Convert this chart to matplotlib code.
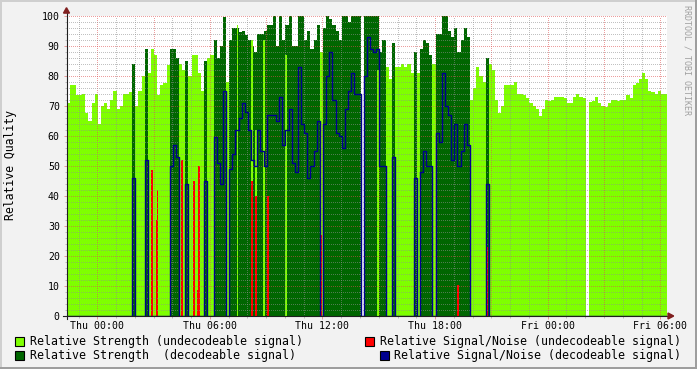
import numpy as np
import matplotlib.pyplot as plt
from matplotlib.patches import Rectangle, Polygon

nan = np.nan

# one sample every 10 minutes, time in hours from Thu 00:00
t_start = -1.64
t_step = 10 / 60

strength = [
    70.8, 77, 77, 73.5, 73.5, 74, 67.5, 65, 71, 74, 64, 70,
    71, 69, 72, 75, 69, 70, 74, 74, 74.5, 84, 70, 75,
    80, 89, 81, 89, 87, 73.5, 77, 77.5, 83.5, 89, 89, 86,
    84, 82, 85, 80, 87, 87, 81, 75, 85, 86, 87, 92,
    86, 90, 99.6, 78, 92, 96, 96, 94.6, 95, 93.5, 92, 90,
    88, 94, 94, 95, 97, 97, 100, 90, 100, 92, 97, 100,
    90, 90, 100, 100, 92, 95, 89, 92, 97, 88, 96, 100,
    99, 97, 95, 92, 100, 100, 98, 100, 100, 100, nan, 100,
    100, 100, 100, 100, 88, 92, 83, 79, 91, 83, 83, 84,
    83, 84, 81, 88, 81, 89, 92, 91, 87, 84, 94, 94,
    100, 100, 95, 93, 96, 88, 92, 96, 93, 72, 76, 83,
    80, 78, 86, 84, 82, 72, 67.5, 70, 77, 77, 77, 78,
    74, 74, 73.5, 72.5, 71, 70, 69, 66.5, 69, 72, 71.5, 72,
    73, 73, 73, 72.5, 71, 71, 73, 74, 73, 72.5, nan, 71.3,
    71.5, 73, 71, 70, 69.5, 71, 72, 72, 71.5, 72, 72, 73.5,
    72.5, 77, 77.5, 79, 80.8, 79, 75, 74.5, 74, 75, 74, 74,
]

# signal/noise of decodeable samples (nan = not decodeable)
snr = [
    nan, nan, nan, nan, nan, nan, nan, nan, nan, nan, nan, nan,
    nan, nan, nan, nan, nan, nan, nan, nan, nan, 46, nan, nan,
    nan, 52, nan, nan, nan, nan, nan, nan, nan, 50, 57, 53,
    nan, nan, 44, nan, nan, nan, nan, nan, 45, nan, nan, 59.5,
    51, 44, 75, nan, 49, 54, 62, 66, 71, 68, 62, 52,
    50, 62, 55, 50, 67, 67, 67, 65, 73, 57, 62, 69,
    51, 48, 83, 64, 61, 46, 50, 55, 65, nan, 64, 80,
    88, 72, 61, 60, 56, 69, 75, 81, 74, 74, nan, 80,
    93, 89, 88, 89, 50, 50, nan, nan, 53, nan, nan, nan,
    nan, nan, nan, 46, nan, 48, 55, 50, 50, nan, 61, 58,
    81, 70, 67, 52, 64, 50, 55, 64, 57, nan, nan, nan,
    nan, nan, 44, nan, nan, nan, nan, nan, nan, nan, nan, nan,
] + [nan] * 48

# short undecodeable moments (strength / signal-noise)
narrow_hours = [2.93, 3.16, 3.21, 4.50, 5.14, 5.36, 5.42, 7.47, 8.23, 8.48,
                8.89, 9.08, 10.04, 11.93, 14.97, 19.21, 20.79]
narrow_strength = [nan, nan, nan, nan, nan, nan, nan, 97, 92, 62,
                   92, nan, 87, nan, 82, nan, nan]
narrow_snr = [48.6, 32, 42, 52, 45, 8.6, 50, nan, 45, 40,
              nan, 40, nan, 27, nan, 10.3, 23]

tick_hours = [0, 6, 12, 18, 24, 30]
tick_labels = ['Thu 00:00', 'Thu 06:00', 'Thu 12:00', 'Thu 18:00',
               'Fri 00:00', 'Fri 06:00']

legend_labels = ['Relative Strength (undecodeable signal)',
                 'Relative Strength  (decodeable signal)',
                 'Relative Signal/Noise (undecodeable signal)',
                 'Relative Signal/Noise (decodeable signal)']

LIGHT = '#7fff00'
DARK = '#006600'
RED = '#ff0000'
BLUE = '#00008f'
BACK = '#f2f2f2'
GRID = (0.56, 0.56, 0.56, 0.55)
MGRID = (0.87, 0.31, 0.31, 0.55)
ARROW = '#801f1f'
AXIS = '#1f1f1f'
MONO = 'DejaVu Sans Mono'
W, H = 697, 369


def steps(v):
    return np.repeat(np.nan_to_num(v), 2)


def draw():
    s = np.array(strength, float)
    q = np.array(snr, float)
    dec = np.isfinite(q)
    edges = t_start + t_step * np.arange(len(s) + 1)
    xs = np.repeat(edges, 2)[1:-1]

    fig = plt.figure(figsize=(W / 100, H / 100), dpi=100, facecolor=BACK)
    ax = fig.add_axes([66.5 / W, 53 / H, 600 / W, 300.5 / H])

    ax.fill_between(xs, 0, steps(np.where(dec, 0, s)), color=LIGHT, lw=0,
                    antialiased=False, zorder=1)
    ax.fill_between(xs, 0, steps(np.where(dec, s, 0)), color=DARK, lw=0,
                    antialiased=False, zorder=1.2)
    ax.bar(narrow_hours, np.nan_to_num(narrow_strength), width=0.1,
           color=LIGHT, lw=0, antialiased=False, zorder=1.4)
    ax.bar(narrow_hours, np.nan_to_num(narrow_snr), width=0.1,
           color=RED, lw=0, antialiased=False, zorder=1.5)
    ax.plot(xs, steps(np.where(dec, q, 0)), color=BLUE, lw=1.0, zorder=3)

    # grid, dotted like rrdtool
    for h in range(-1, 31):
        ax.axvline(h, color=MGRID if h % 3 == 0 else GRID, lw=0.72,
                   ls=(0, (1, 2)), antialiased=False, zorder=2)
    for v in range(2, 101, 2):
        ax.axhline(v, color=MGRID if v % 10 == 0 else GRID, lw=0.72,
                   ls=(0, (1, 2)), antialiased=False, zorder=2)

    ax.set_xlim(-1.64, 30.33)
    ax.set_ylim(0, 100)
    ax.set_xticks(tick_hours, tick_labels)
    ax.set_xticks(range(-1, 31), minor=True)
    ax.set_yticks(range(0, 101, 10))
    ax.set_yticks(range(0, 101, 2), minor=True)
    ax.tick_params(which='major', length=2.2, width=0.7, color=MGRID,
                   labelsize=7.1, pad=1.6)
    ax.tick_params(which='minor', length=1.5, width=0.7, color=GRID)
    ax.tick_params(axis='y', which='major', pad=2.6)
    for lab in ax.get_xticklabels() + ax.get_yticklabels():
        lab.set_family(MONO)

    for side in ['top', 'right', 'left', 'bottom']:
        ax.spines[side].set_visible(False)
    ax.plot([0, 0], [-0.01, 1.01], color=AXIS, lw=0.8,
            transform=ax.transAxes, clip_on=False, zorder=4)
    ax.plot([-0.006, 1.004], [0, 0], color=AXIS, lw=0.8,
            transform=ax.transAxes, clip_on=False, zorder=4)
    ax.add_patch(Polygon([[-0.005, 1.008], [0.005, 1.008], [0, 1.026]],
                         closed=True, color=ARROW, transform=ax.transAxes,
                         clip_on=False, zorder=5))
    ax.add_patch(Polygon([[1.0025, -0.01], [1.0025, 0.01], [1.012, 0]],
                         closed=True, color=ARROW, transform=ax.transAxes,
                         clip_on=False, zorder=5))

    fig.text(11 / W, 1 - 165 / H, 'Relative Quality', rotation=90,
             family=MONO, size=8.3, ha='center', va='center')
    fig.text(687 / W, 1 - 60 / H, 'RRDTOOL / TOBI OETIKER', rotation=270,
             family=MONO, size=6, color='#a0a0a0', ha='center', va='center')

    # legend
    items = [(15, 341, LIGHT, 30), (15, 355, DARK, 30),
             (365, 341, RED, 380), (380, 355, BLUE, 394)]
    for (bx, by, col, tx), label in zip(items, legend_labels):
        fig.patches.append(Rectangle((bx / W, 1 - (by + 4.5) / H), 9 / W,
                                     9 / H, transform=fig.transFigure,
                                     facecolor=col, edgecolor='black',
                                     lw=0.8))
        fig.text(tx / W, 1 - by / H, label, family=MONO, size=8.35,
                 va='center', ha='left')

    # 3d frame
    fig.add_artist(plt.Line2D([0, 1], [1 - 1 / H, 1 - 1 / H], color='#cfcfcf',
                              lw=1.44, transform=fig.transFigure))
    fig.add_artist(plt.Line2D([1 / W, 1 / W], [0, 1], color='#cfcfcf',
                              lw=1.44, transform=fig.transFigure))
    fig.add_artist(plt.Line2D([0, 1], [1 / H, 1 / H], color='#9e9e9e',
                              lw=1.44, transform=fig.transFigure))
    fig.add_artist(plt.Line2D([1 - 1 / W, 1 - 1 / W], [0, 1], color='#9e9e9e',
                              lw=1.44, transform=fig.transFigure))

    fig.savefig('out.png', dpi=100, facecolor=BACK)


if __name__ == '__main__':
    draw()
